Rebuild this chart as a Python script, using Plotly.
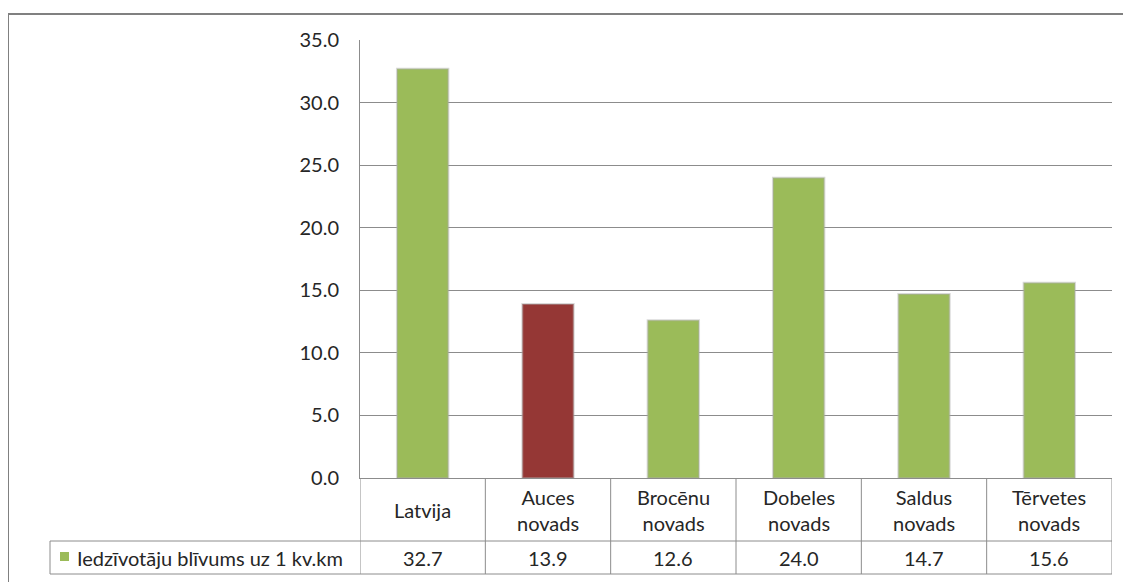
import plotly.graph_objects as go

categories = ["Latvija", "Auces<br>novads", "Brocēnu<br>novads", "Dobeles<br>novads", "Saldus<br>novads", "Tērvetes<br>novads"]
values = [32.7, 13.9, 12.6, 24.0, 14.7, 15.6]
value_labels = ["32.7", "13.9", "12.6", "24.0", "14.7", "15.6"]
bar_colors = ["#9BBB59", "#953735", "#9BBB59", "#9BBB59", "#9BBB59", "#9BBB59"]
series_name = "Iedzīvotāju blīvums uz 1 kv.km"
y_ticks = [0, 5, 10, 15, 20, 25, 30, 35]
y_tick_text = ["0.0", "5.0", "10.0", "15.0", "20.0", "25.0", "30.0", "35.0"]

OFF = 8  # page body margin
W, H = 1131 - OFF, 582 - OFF
L, R, T, B = 360 - OFF, 1112 - OFF, 40 - OFF, 478 - OFF
pw, ph = R - L, B - T

def px_x(x):
    return (x - OFF - L) / pw

def px_y(y):
    return (B - (y - OFF)) / ph

FONT = "Lato, Carlito, Calibri, sans-serif"
FS = 20
GRID = "#8C8C8C"
TXT = "#262626"

fig = go.Figure()
fig.add_trace(go.Bar(
    x=list(range(len(categories))), y=values,
    marker=dict(color=bar_colors, line=dict(color="rgba(170,170,170,0.45)", width=2)),
    width=0.41, showlegend=False, hoverinfo="skip",
))

shapes = []
annotations = []

row1_top, row1_bot = 478, 541
row2_bot = 574
ncat = len(categories)
for yy in (row1_bot, row2_bot):
    shapes.append(dict(type="line", xref="paper", yref="paper", x0=px_x(50), x1=1, y0=px_y(yy), y1=px_y(yy),
                       line=dict(color=GRID, width=1)))
for i in range(ncat + 1):
    shapes.append(dict(type="line", xref="x", yref="paper", x0=i - 0.5, x1=i - 0.5, y0=0, y1=px_y(row2_bot),
                       line=dict(color=GRID, width=1)))
shapes.append(dict(type="line", xref="paper", yref="paper", x0=px_x(50), x1=px_x(50), y0=px_y(row1_bot), y1=px_y(row2_bot),
                   line=dict(color=GRID, width=1)))
shapes.append(dict(type="rect", xref="paper", yref="paper", x0=px_x(60), x1=px_x(69), y0=px_y(561), y1=px_y(552),
                   fillcolor="#9BBB59", line=dict(width=0)))
shapes.append(dict(type="rect", xref="paper", yref="paper", x0=px_x(8), x1=px_x(1145), y0=px_y(600), y1=px_y(14),
                   line=dict(color="#808080", width=2), fillcolor="rgba(0,0,0,0)", layer="below"))

for i, c in enumerate(categories):
    annotations.append(dict(x=i, y=px_y((row1_top + row1_bot) / 2), xref="x", yref="paper", text=c, showarrow=False,
                            font=dict(family=FONT, size=FS, color=TXT), yanchor="middle", align="center"))
    annotations.append(dict(x=i, y=px_y((row1_bot + row2_bot) / 2), xref="x", yref="paper", text=value_labels[i],
                            showarrow=False, font=dict(family=FONT, size=FS, color=TXT), yanchor="middle"))
annotations.append(dict(x=px_x(75), y=px_y((row1_bot + row2_bot) / 2), xref="paper", yref="paper", text=series_name,
                        showarrow=False, xanchor="left", yanchor="middle", font=dict(family=FONT, size=FS, color=TXT)))

fig.update_layout(
    width=W, height=H,
    margin=dict(l=L, r=W - R, t=T, b=H - B, autoexpand=False),
    paper_bgcolor="white", plot_bgcolor="white",
    xaxis=dict(range=[-0.5, ncat - 0.5], showticklabels=False, showgrid=False, zeroline=False,
               showline=True, linecolor=GRID, linewidth=1),
    yaxis=dict(range=[0, 35], tickvals=y_ticks, ticktext=y_tick_text, showgrid=True, gridcolor=GRID, gridwidth=1,
               zeroline=False, showline=True, linecolor=GRID, linewidth=1, ticks="",
               ticklabelstandoff=16, tickfont=dict(family=FONT, size=FS, color=TXT)),
    shapes=shapes, annotations=annotations,
)
fig.write_html("out.html")
